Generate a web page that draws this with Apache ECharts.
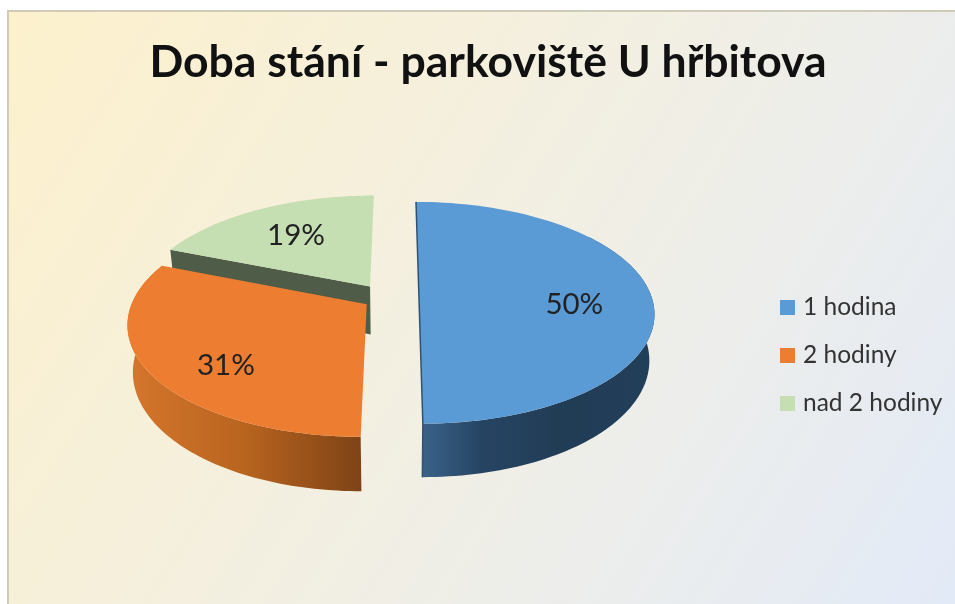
<!DOCTYPE html>
<html>
<head>
<meta charset="utf-8">
<style>
	html, body { margin: 0; padding: 0; background: #fff; }
	#chart-container { width: 955px; height: 604px; }
</style>
<script src="https://cdn.jsdelivr.net/npm/echarts@6/dist/echarts.min.js"></script>
</head>
<body>
<div id="chart-container"></div>
<script>
const titleText = 'Doba stání - parkoviště U hřbitova';
const categories = ['1 hodina', '2 hodiny', 'nad 2 hodiny'];
const shares = [50, 31, 19];

const topColors = ['#5b9bd5', '#ed7d31', '#c5deb2'];
// fake 3d: disc is projected by hand, renderItem only gets the share from the series data
const view = {cx: 398, cy: 295, rx: 232, ry: 108, persp: 0.16, depth: 45, shrink: 0.02};
const explode = [[0.09, 0], [-0.133, 0.085], [-0.122, -0.08]];
const labelShift = [[0, 9], [0, 17], [3, 3]];
const total = shares.reduce((a, b) => a + b, 0);

function project(u, v, h) {
	const s = 1 / (1 - view.persp * v);
	return [view.cx + view.rx * u * s * (1 - view.shrink * h), view.cy + view.ry * v * s + h * view.depth * s];
}

// angle is clockwise from 12 o'clock
function rimPoint(idx, angle, h, r = 1) {
	const [ou, ov] = explode[idx];
	return project(ou + r * Math.sin(angle), ov - r * Math.cos(angle), h);
}

function sliceAngles(idx, value) {
	let before = 0;
	for (let i = 0; i < idx; i++) {
		before += shares[i];
	}
	const start = before / total * Math.PI * 2;
	return [start, start + value / total * Math.PI * 2];
}

function arc(idx, a0, a1, h) {
	const pts = [];
	const steps = 90;
	for (let i = 0; i <= steps; i++) {
		pts.push(rimPoint(idx, a0 + (a1 - a0) * i / steps, h));
	}
	return pts;
}

function wallFill(idx) {
	if (idx === 0) {
		return {type: 'linear', x: 0, y: 0, x2: 1, y2: 0, colorStops: [
			{offset: 0, color: '#3b6289'}, {offset: 0.25, color: '#264563'},
			{offset: 0.6, color: '#213c55'}, {offset: 1, color: '#223f5a'}]};
	}
	return {type: 'linear', x: 0, y: 0, x2: 1, y2: 0, colorStops: [
		{offset: 0, color: '#d5762c'}, {offset: 0.5, color: '#b8641f'},
		{offset: 1, color: '#7e4316'}]};
}

function renderSlice(params, api) {
	const idx = params.seriesIndex;
	const value = api.value(0);
	const [a0, a1] = sliceAngles(idx, value);
	const [ou, ov] = explode[idx];
	const children = [];
	const topEdge = arc(idx, a0, a1, 0);
	if (idx === 2) {
		// only the cut face towards the viewer shows on the green slice
		children.push({type: 'polygon', shape: {points: [
			rimPoint(idx, a0, 0), project(ou, ov, 0), project(ou, ov, 1.08), rimPoint(idx, a0, 1.08),
		]}, style: {fill: '#4f5c48'}});
	} else {
		const from = idx === 0 ? Math.PI * 0.3 : a0;
		const up = arc(idx, from, a1, 0);
		const down = arc(idx, from, a1, 1).reverse();
		children.push({type: 'polygon', shape: {points: up.concat(down)}, style: {fill: wallFill(idx)}});
	}
	children.push({type: 'polygon', shape: {points: [project(ou, ov, 0)].concat(topEdge)},
		style: {fill: topColors[idx]}});
	if (idx === 0) {
		// thin dark edge along the cut on the blue slice
		children.push({type: 'polyline', shape: {points: [
			rimPoint(idx, 0, 0), project(ou, ov, 0), rimPoint(idx, Math.PI, 0), rimPoint(idx, Math.PI, 1),
		]}, style: {fill: null, stroke: '#2f5272', lineWidth: 1.5}});
	}
	const mid = (a0 + a1) / 2;
	const lp = rimPoint(idx, mid, 0, 0.67);
	children.push({type: 'text', x: lp[0] + labelShift[idx][0], y: lp[1] + labelShift[idx][1], style: {
		text: value + '%', fill: '#222', font: '400 29.5px Lato', align: 'center', verticalAlign: 'middle',
	}});
	return {type: 'group', children};
}

const chart = echarts.init(document.getElementById('chart-container'), null, {renderer: 'canvas'});
chart.setOption({
	animation: false,
	title: {
		text: titleText,
		left: 483,
		top: 35,
		textAlign: 'center',
		textStyle: {fontFamily: 'Lato', fontWeight: 'bold', fontSize: 44.5, color: '#111'},
	},
	legend: {
		orient: 'vertical',
		left: 775,
		top: 290,
		icon: 'rect',
		itemWidth: 15,
		itemHeight: 15,
		itemGap: 23,
		data: categories,
		textStyle: {fontFamily: 'Lato', fontSize: 24.5, lineHeight: 24, color: '#333', padding: [0, 0, 0, 3]},
	},
	graphic: [{
		type: 'rect',
		z: -1,
		shape: {x: 8, y: 11, width: 960, height: 604},
		style: {
			stroke: '#cfcbbb',
			lineWidth: 2,
			fill: {type: 'linear', x: 0, y: 0, x2: 1, y2: 1, colorStops: [
				{offset: 0, color: '#fdf1cc'},
				{offset: 0.5, color: '#f2efe3'},
				{offset: 1, color: '#e2eaf8'},
			]},
		},
	}],
	// green first, blue last so they overlap like in the picture
	series: categories.map((name, i) => ({
		name,
		type: 'custom',
		coordinateSystem: 'none',
		renderItem: renderSlice,
		itemStyle: {color: topColors[i]},
		z: i === 2 ? 2 : i === 1 ? 3 : 4,
		data: [[shares[i]]],
	})),
});
</script>
</body>
</html>
